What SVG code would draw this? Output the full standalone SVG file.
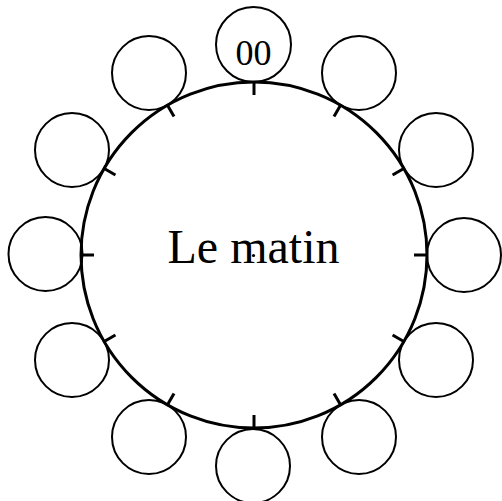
<svg xmlns="http://www.w3.org/2000/svg" width="502" height="501" viewBox="0 0 502 501">
<style>
.small{fill:none;stroke:#000;stroke-width:2}
.tick{stroke:#000;stroke-width:3}
.t{font-family:"Liberation Serif","Times New Roman",serif;fill:#000;text-anchor:middle}
</style>
<rect width="502" height="501" fill="#fff"/>
<g id="dial">
<circle cx="254" cy="255" r="173" fill="none" stroke="#000" stroke-width="3"/>
<circle cx="253.5" cy="255.5" r="1.6" fill="#000"/>
<text class="t" x="253.5" y="263" font-size="48">Le matin</text>
</g>
<g id="ticks">
<g transform="translate(254,255)">
<line class="tick" x1="0" y1="-173" x2="0" y2="-160" transform="rotate(0)"/>
<line class="tick" x1="0" y1="-173" x2="0" y2="-160" transform="rotate(30)"/>
<line class="tick" x1="0" y1="-173" x2="0" y2="-160" transform="rotate(60)"/>
<line class="tick" x1="0" y1="-173" x2="0" y2="-160" transform="rotate(90)"/>
<line class="tick" x1="0" y1="-173" x2="0" y2="-160" transform="rotate(120)"/>
<line class="tick" x1="0" y1="-173" x2="0" y2="-160" transform="rotate(150)"/>
<line class="tick" x1="0" y1="-173" x2="0" y2="-160" transform="rotate(180)"/>
<line class="tick" x1="0" y1="-173" x2="0" y2="-160" transform="rotate(210)"/>
<line class="tick" x1="0" y1="-173" x2="0" y2="-160" transform="rotate(240)"/>
<line class="tick" x1="0" y1="-173" x2="0" y2="-160" transform="rotate(270)"/>
<line class="tick" x1="0" y1="-173" x2="0" y2="-160" transform="rotate(300)"/>
<line class="tick" x1="0" y1="-173" x2="0" y2="-160" transform="rotate(330)"/>
</g>
</g>
<g id="slot0"><circle class="small" cx="253.5" cy="44.5" r="37.5"/><text class="t" x="253.5" y="65" font-size="36">00</text></g>
<g id="slot1"><circle class="small" cx="359" cy="73" r="37"/></g>
<g id="slot2"><circle class="small" cx="436" cy="150" r="37"/></g>
<g id="slot3"><circle class="small" cx="464" cy="255" r="37"/></g>
<g id="slot4"><circle class="small" cx="436" cy="360" r="37"/></g>
<g id="slot5"><circle class="small" cx="359" cy="437" r="37"/></g>
<g id="slot6"><circle class="small" cx="253" cy="466" r="37"/></g>
<g id="slot7"><circle class="small" cx="149" cy="437" r="37"/></g>
<g id="slot8"><circle class="small" cx="72" cy="360" r="37"/></g>
<g id="slot9"><circle class="small" cx="45.5" cy="254" r="37"/></g>
<g id="slot10"><circle class="small" cx="72" cy="150" r="37"/></g>
<g id="slot11"><circle class="small" cx="149" cy="73" r="37"/></g>
</svg>
